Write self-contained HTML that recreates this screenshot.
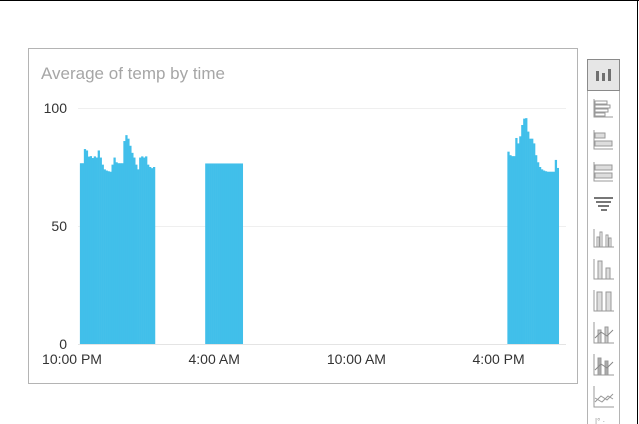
<!DOCTYPE html>
<html><head><meta charset="utf-8"><style>
html,body{margin:0;padding:0;background:#fff;}
body{width:639px;height:424px;position:relative;overflow:hidden;font-family:"Liberation Sans",sans-serif;}
</style></head><body>
<svg width="639" height="424" style="position:absolute;left:0;top:0">
  <line x1="0" y1="0.5" x2="639" y2="0.5" stroke="#000"/>
  <line x1="637.5" y1="0" x2="637.5" y2="424" stroke="#000"/>
  <rect x="28.5" y="48.5" width="549" height="335" fill="#fff" stroke="#b4b4b4"/>
  <text x="41" y="79" font-size="17" fill="#a6a6a6">Average of temp by time</text>
  <g id="grid"></g>
  <g id="bars"></g>
  <g id="ticks"></g>
  <g id="panel">
    <line x1="587.5" y1="60" x2="587.5" y2="424" stroke="#b4b4b4"/>
    <line x1="619.5" y1="60" x2="619.5" y2="424" stroke="#b4b4b4"/>
    <rect x="587.5" y="59.5" width="32" height="31" fill="#e6e6e6" stroke="#8a8a8a"/>
    <rect x="596" y="71" width="3" height="10" fill="#707070"/><rect x="602" y="73" width="3" height="8" fill="#707070"/><rect x="608" y="69" width="3" height="12" fill="#707070"/>
    <g fill="none" stroke="#999"><path d="M594 99V117H613"/><rect x="595" y="101" width="12" height="3"/><rect x="595" y="105" width="15" height="3"/><rect x="595" y="109" width="13" height="3"/><rect x="595" y="113" width="10" height="3"/></g>
    <g fill="none" stroke="#999"><path d="M594 130V149H613"/><rect x="595" y="133" width="10" height="5" fill="#ddd"/><rect x="595" y="141" width="17" height="5" fill="#ddd"/></g>
    <g fill="none" stroke="#999"><path d="M594 162V181H613"/><rect x="595" y="165" width="17" height="5" fill="#ddd"/><rect x="595" y="173" width="17" height="5" fill="#ddd"/></g>
    <g fill="#777"><rect x="594" y="197" width="19" height="2"/><rect x="596" y="201" width="15" height="2"/><rect x="598" y="205" width="11" height="2"/><rect x="601" y="209" width="6" height="2"/></g>
    <g fill="none" stroke="#999"><path d="M594 229V247H614"/><rect x="597" y="237" width="2" height="10"/><rect x="600" y="232" width="2" height="15"/><rect x="606" y="235" width="2" height="12"/><rect x="609" y="238" width="2" height="9"/></g>
    <g fill="none" stroke="#999"><path d="M594 259V279H614"/><rect x="598" y="261" width="4" height="18" fill="#ddd"/><rect x="606" y="268" width="4" height="11" fill="#ddd"/></g>
    <g fill="none" stroke="#999"><path d="M594 290V311H614"/><rect x="597" y="292" width="5" height="19" fill="#ddd"/><rect x="606" y="292" width="5" height="19" fill="#ddd"/></g>
    <g fill="none" stroke="#999"><path d="M594 322V343H614"/><rect x="598" y="330" width="3" height="13" fill="#ccc"/><rect x="605" y="327" width="3" height="16" fill="#ccc"/><path d="M595 338L601 332L607 336L613 330" stroke="#888"/></g>
    <g fill="none" stroke="#999"><path d="M594 354V375H614"/><rect x="598" y="358" width="3" height="17" fill="#aaa"/><rect x="605" y="361" width="3" height="14" fill="#aaa"/><path d="M595 370L601 364L607 368L613 362" stroke="#888"/></g>
    <g fill="none" stroke="#999"><path d="M594 386V407H614"/><path d="M595 402L601 396L607 400L613 394"/><path d="M595 398L602 402L608 396L613 399"/></g>
    <text x="595" y="424" font-size="8" fill="#999">|° ·</text>
  </g>
</svg>
<script>
const yTicks = [0, 50, 100];
const xTickLabels = ["10:00 PM", "4:00 AM", "10:00 AM", "4:00 PM"];
const xTickHours = [0, 6, 12, 18];
const barMinutes = 5;
const cluster1Start = 0.333;
const cluster1Values = [76.6,76.6,82.6,82,79.4,79.6,78.8,79.5,79,82,79,76,74,73.5,73.2,73,76,79,77,76.6,76.6,76.6,86,88.5,87,84,81,79,76,74,79,79.5,79,79.5,76,75,74.5,75];
const cluster2Start = 5.62;
const cluster2Values = [76.5,76.5,76.5,76.5,76.5,76.5,76.5,76.5,76.5,76.5,76.5,76.5,76.5,76.5,76.5,76.5,76.5,76.5,76.5];
const cluster3Start = 18.37;
const cluster3Values = [81.5,80,79.6,79.6,87.3,85,88,92.8,95.5,95.7,90,87,87,85,80,77,75,74,73.5,73.2,73,73,73,73,78,74.6];

const NS = "http://www.w3.org/2000/svg";
const X0 = 72, PXH = 23.7, Y0 = 344, Y100 = 108;
function xS(h){ return X0 + h * PXH; }
function yS(v){ return Y0 - (v / 100) * (Y0 - Y100); }

const grid = document.getElementById("grid");
yTicks.forEach(t => {
  const l = document.createElementNS(NS, "line");
  l.setAttribute("x1", 78); l.setAttribute("x2", 566);
  l.setAttribute("y1", yS(t) + 0.5); l.setAttribute("y2", yS(t) + 0.5);
  l.setAttribute("stroke", t === 0 ? "#e4e4e4" : "#efefef");
  
  
  grid.appendChild(l);
  const tx = document.createElementNS(NS, "text");
  tx.setAttribute("x", 67); tx.setAttribute("y", yS(t) + 5);
  tx.setAttribute("text-anchor", "end"); tx.setAttribute("font-size", "14"); tx.setAttribute("fill", "#333");
  tx.textContent = t;
  
  
  grid.appendChild(tx);
});
const ticks = document.getElementById("ticks");
xTickLabels.forEach((lab, i) => {
  const tx = document.createElementNS(NS, "text");
  tx.setAttribute("x", xS(xTickHours[i])); tx.setAttribute("y", 364);
  tx.setAttribute("text-anchor", "middle"); tx.setAttribute("font-size", "14"); tx.setAttribute("fill", "#333");
  tx.textContent = lab;
  
  
  ticks.appendChild(tx);
});
const bars = document.getElementById("bars");
const step = barMinutes / 60;
[[cluster1Start, cluster1Values], [cluster2Start, cluster2Values], [cluster3Start, cluster3Values]].forEach(([s, vals]) => {
  vals.forEach((v, i) => {
    const r = document.createElementNS(NS, "rect");
    const x = xS(s + i * step);
    r.setAttribute("x", x); r.setAttribute("width", step * PXH + 0.3);
    r.setAttribute("y", yS(v)); r.setAttribute("height", Y0 - yS(v));
    r.setAttribute("fill", "#41bfea");
    
    
    bars.appendChild(r);
  });
});
</script>
</body></html>
